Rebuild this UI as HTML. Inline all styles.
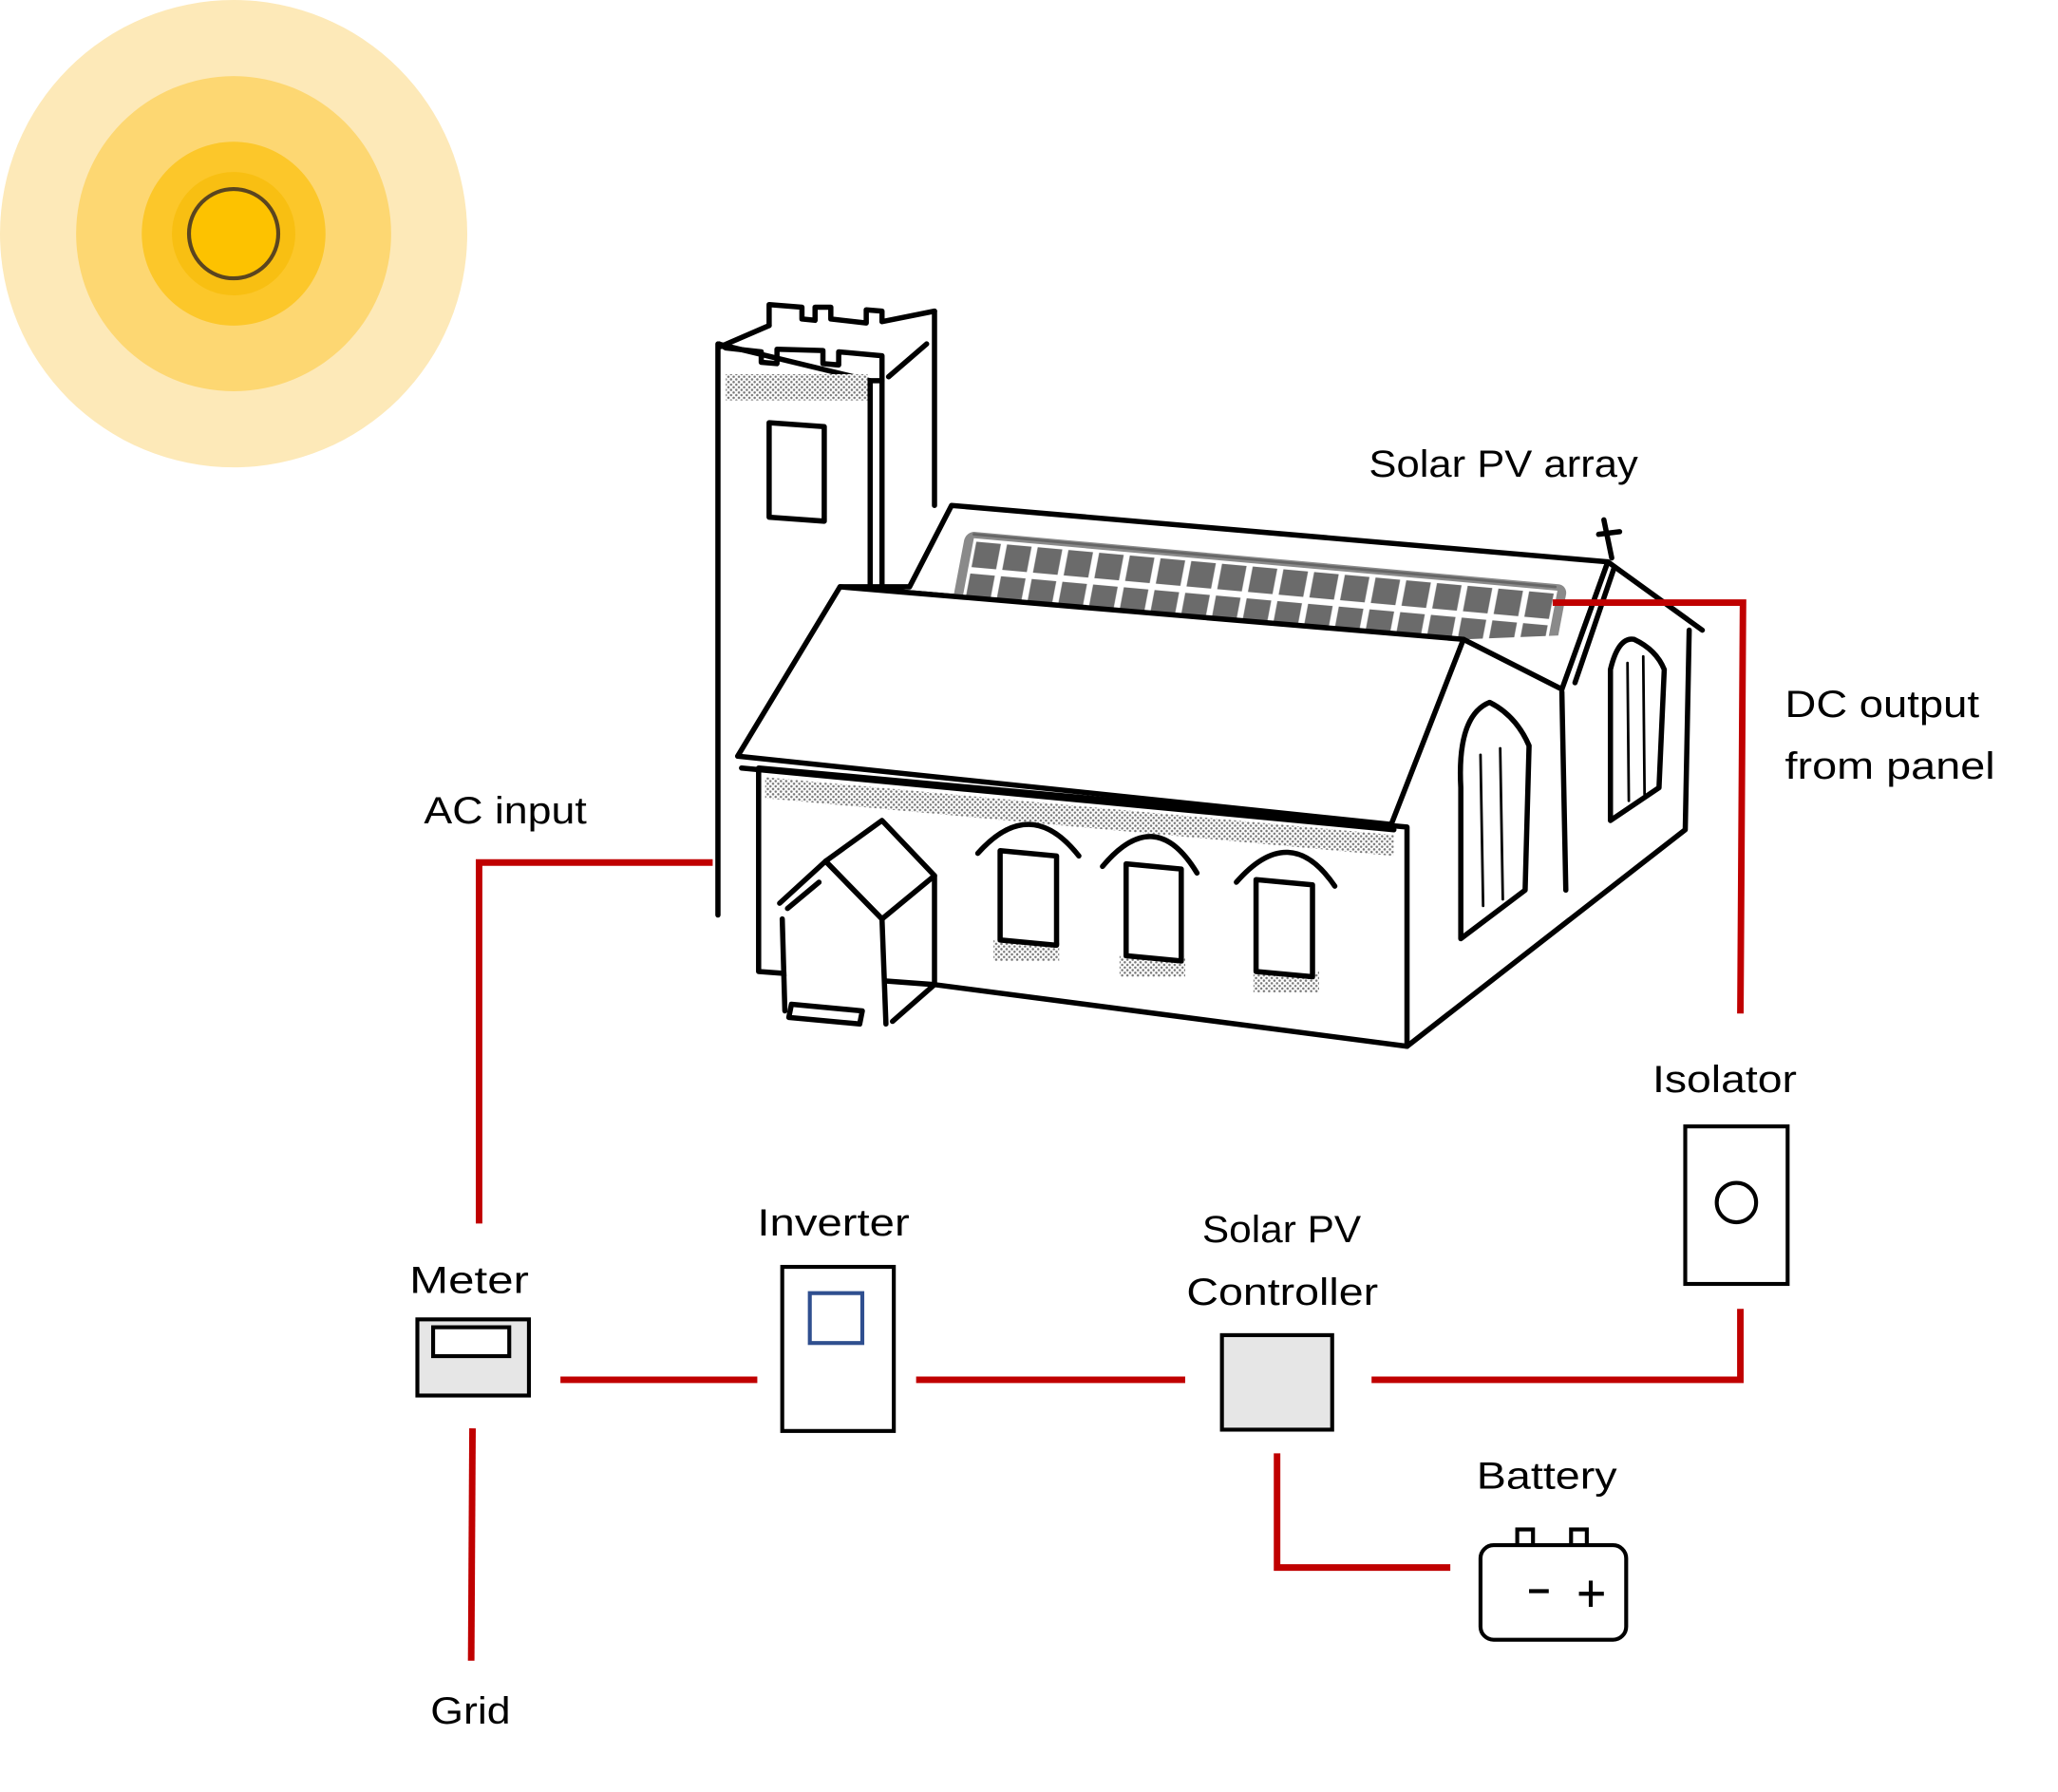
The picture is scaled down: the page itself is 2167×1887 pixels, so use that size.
<!DOCTYPE html>
<html><head><meta charset="utf-8"><style>
html,body{margin:0;padding:0;background:#fff;}
svg{display:block;}
text{font-family:"Liberation Sans",sans-serif;font-size:29px;fill:#000;}
</style></head><body>
<svg width="2167" height="1887" viewBox="0 0 1568 1365" preserveAspectRatio="none" xmlns="http://www.w3.org/2000/svg">
<defs>
<pattern id="cells" width="1" height="1" patternUnits="userSpaceOnUse">
<rect x="0" y="0" width="1" height="1" fill="#fff"/>
<rect x="0.1" y="0.1" width="0.8" height="0.8" fill="#6b6b6b"/>
</pattern>
<pattern id="dots" width="4" height="4" patternUnits="userSpaceOnUse">
<rect width="4" height="4" fill="#fff"/>
<circle cx="1" cy="1" r="0.9" fill="#777"/>
<circle cx="3" cy="3" r="0.9" fill="#777"/>
</pattern>
</defs>

<circle cx="178" cy="178" r="178" fill="#fde9b8"/>
<circle cx="178" cy="178" r="120" fill="#fdd772"/>
<circle cx="178" cy="178" r="70" fill="#fcc72a"/>
<circle cx="178" cy="178" r="47" fill="#f8bf12"/>
<circle cx="178" cy="178" r="34" fill="#fdc200" stroke="#5a4520" stroke-width="3"/>

<g stroke="#000" stroke-width="4" fill="#fff" stroke-linejoin="round" stroke-linecap="round">
<polygon points="547,262 663,290 672,290 672,450 578,590 578,697 547,697" fill="#fff" stroke="none"/>
<polyline points="547,697 547,262 663,290 663,452" fill="none"/>
<polyline points="672,290 672,450" fill="none"/>
<polyline points="712,237 712,385" fill="none"/>
<polyline points="677,287 706,262" fill="none"/>
<polyline points="548,262 553,265 580,268 580,276 592,277 592,266 627,267 627,277 639,278 639,268 672,271 672,290 663,290" fill="none"/>
<polyline points="586,248 586,232 611,234 611,243 621,244 621,234 633,234 633,243 660,246 660,236 672,237 672,245 712,237" fill="none"/>
<polyline points="549,264 586,248" fill="none"/>
<rect x="553" y="285" width="108" height="20" fill="url(#dots)" stroke="none"/>
<polygon points="586,322 628,325 628,397 586,394" fill="#fff"/>

<polygon points="725,385 1225,428 1190,525 1115,487 640,447 693,447" fill="#fff"/>
<g transform="matrix(23.4,2.1,-4.6,24.2,742,410)">
<rect x="-0.3" y="-0.2" width="19.6" height="2.4" rx="0.3" fill="#8a8a8a" stroke="none"/>
<rect x="0" y="0" width="19" height="2" fill="url(#cells)" stroke="none"/>
</g>
<line x1="742" y1="407" x2="1185" y2="447" stroke="#666" stroke-width="2"/>

<polygon points="1115,487 1190,525 1193,678 1297,632 1287,480 1225,428 1190,525 1115,487 1060,628 1072,630 1072,797 1284,632 1287,480" fill="#fff" stroke="none"/>
<polyline points="1115,487 1190,525" fill="none"/>
<polyline points="1225,428 1297,480" fill="none"/>
<polyline points="1287,480 1284,632 1072,797" fill="none"/>
<polyline points="1190,527 1193,678" fill="none"/>
<polyline points="1225,428 1190,525" fill="none"/>
<polyline points="1200,520 1230,432" fill="none"/>
<line x1="1222" y1="396" x2="1228" y2="425"/>
<line x1="1218" y1="407" x2="1234" y2="405"/>
<path d="M1113,715 L1113,600 Q1110,545 1135,535 Q1155,545 1165,568 L1162,678 Z" fill="#fff"/>
<line x1="1128" y1="575" x2="1130" y2="690" stroke-width="2"/>
<line x1="1143" y1="570" x2="1145" y2="685" stroke-width="2"/>
<path d="M1227,625 L1227,510 Q1233,485 1245,487 Q1262,495 1268,510 L1264,600 Z" fill="#fff"/>
<line x1="1240" y1="505" x2="1241" y2="610" stroke-width="2"/>
<line x1="1252" y1="500" x2="1253" y2="605" stroke-width="2"/>

<polygon points="578,585 1072,630 1072,797 712,750 578,740" fill="#fff"/>
<polygon points="583,592 1062,636 1062,652 583,608" fill="url(#dots)" stroke="none"/>
<polygon points="640,447 1115,487 1060,628 562,576" fill="#fff"/>
<polyline points="565,585 1062,632" fill="none"/>
<rect x="757" y="716" width="50" height="16" fill="url(#dots)" stroke="none"/>
<rect x="853" y="728" width="50" height="16" fill="url(#dots)" stroke="none"/>
<rect x="955" y="740" width="50" height="16" fill="url(#dots)" stroke="none"/>
<polygon points="762,648 805,652 805,720 762,716" fill="#fff"/>
<path d="M745,650 Q785,605 822,652" fill="none"/>
<polygon points="858,658 900,662 900,732 858,728" fill="#fff"/>
<path d="M840,660 Q880,612 912,665" fill="none"/>
<polygon points="957,670 1000,674 1000,744 957,740" fill="#fff"/>
<path d="M942,672 Q983,625 1017,675" fill="none"/>

<polygon points="595,690 629,656 672,700 675,780 655,778 600,770 598,700" fill="#fff" stroke="none"/>
<polygon points="629,656 672,625 712,667 672,700" fill="#fff"/>
<polyline points="629,656 672,700 675,780" fill="none"/>
<polyline points="712,667 712,750 680,778" fill="none"/>
<polyline points="594,688 629,656" fill="none"/>
<polyline points="600,692 624,672" fill="none"/>
<polyline points="596,700 598,770" fill="none"/>
<polygon points="603,765 657,770 655,780 601,775" fill="#fff"/>
</g>

<g stroke="#c00000" stroke-width="5" fill="none">
<polyline points="543,657 365,657 365,932"/>
<line x1="360" y1="1088" x2="359" y2="1265"/>
<line x1="427" y1="1051" x2="577" y2="1051"/>
<line x1="698" y1="1051" x2="903" y2="1051"/>
<polyline points="1045,1051 1326,1051 1326,997"/>
<polyline points="1183,459 1328,459 1326,772"/>
<polyline points="973,1107 973,1194 1105,1194"/>
</g>

<g stroke="#000" stroke-width="3">
<rect x="318" y="1005" width="85" height="58" fill="#e6e6e6"/>
<rect x="330" y="1011" width="58" height="22" fill="#fff"/>
<rect x="596" y="965" width="85" height="125" fill="#fff"/>
<rect x="617" y="985" width="40" height="38" fill="#fff" stroke="#2f4f8f"/>
<rect x="931" y="1017" width="84" height="72" fill="#e6e6e6"/>
<rect x="1284" y="858" width="78" height="120" fill="#fff"/>
<circle cx="1323" cy="916" r="15" fill="#fff"/>
<rect x="1156" y="1165" width="12" height="12" fill="#fff"/>
<rect x="1197" y="1165" width="12" height="12" fill="#fff"/>
<rect x="1128" y="1177" width="111" height="72" rx="10" fill="#fff"/>
<line x1="1165" y1="1212" x2="1180" y2="1212"/>
<line x1="1203" y1="1214" x2="1222" y2="1214"/>
<line x1="1212" y1="1204" x2="1212" y2="1224"/>
</g>

<text x="1043" y="363" textLength="205" lengthAdjust="spacingAndGlyphs">Solar PV array</text>
<text x="1360" y="546" textLength="148" lengthAdjust="spacingAndGlyphs">DC output</text>
<text x="1360" y="593" textLength="160" lengthAdjust="spacingAndGlyphs">from panel</text>
<text x="323" y="627" textLength="124" lengthAdjust="spacingAndGlyphs">AC input</text>
<text x="1259" y="832" textLength="110" lengthAdjust="spacingAndGlyphs">Isolator</text>
<text x="577" y="941" textLength="116" lengthAdjust="spacingAndGlyphs">Inverter</text>
<text x="916" y="946" textLength="121" lengthAdjust="spacingAndGlyphs">Solar PV</text>
<text x="904" y="994" textLength="146" lengthAdjust="spacingAndGlyphs">Controller</text>
<text x="312" y="985" textLength="91" lengthAdjust="spacingAndGlyphs">Meter</text>
<text x="1125" y="1134" textLength="107" lengthAdjust="spacingAndGlyphs">Battery</text>
<text x="328" y="1313" textLength="61" lengthAdjust="spacingAndGlyphs">Grid</text>
</svg>
</body></html>
